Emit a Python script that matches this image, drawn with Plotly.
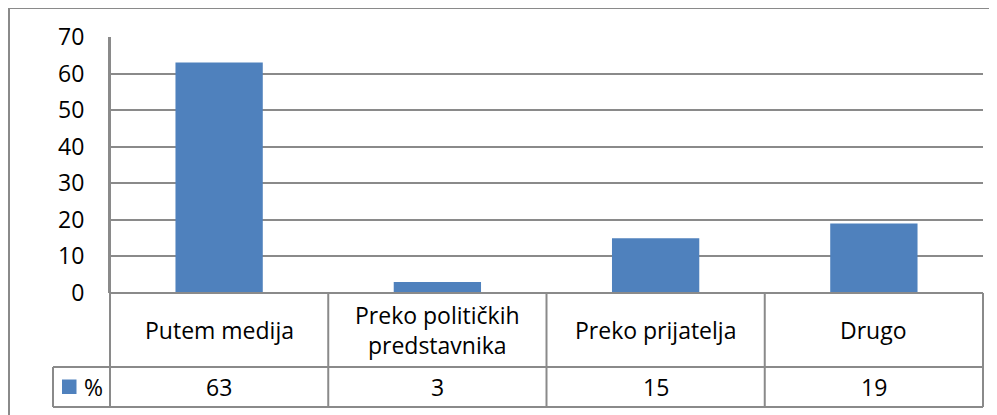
import plotly.graph_objects as go

# Survey answers: how respondents got their information (%)
categories = ["Putem medija", "Preko političkih<br>predstavnika", "Preko prijatelja", "Drugo"]
values = [63, 3, 15, 19]
series_name = "%"
y_ticks = [0, 10, 20, 30, 40, 50, 60, 70]

_BAR_COLOR = "#4f81bd"
_LINE_COLOR = "#8a8a8a"
_FONT = "Open Sans"

# the page body adds an 8px margin, so everything is laid out 8px up/left
OFF = 8
W, H = 997 - OFF, 415 - OFF
L, R, T, B = 110 - OFF, 983 - OFF, 37 - OFF, 293 - OFF  # plot area in pixels


def px(x):
    return (x - OFF - L) / (R - L)


def py(y):
    return (B - (y - OFF)) / (B - T)


fig = go.Figure()
fig.add_bar(
    x=list(range(len(categories))),
    y=values,
    name=series_name,
    marker={"color": _BAR_COLOR, "line": {"width": 0}},
)

row1, row2 = 367, 407  # reference pixel rows of the table
n = len(categories)
line = {"color": _LINE_COLOR, "width": 2}
shapes = []
# outer chart border (left and top only visible)
shapes.append(dict(type="line", xref="paper", yref="paper", x0=px(9), x1=px(9),
                   y0=py(8), y1=py(430), line=line))
shapes.append(dict(type="line", xref="paper", yref="paper", x0=px(9), x1=px(1010),
                   y0=py(8), y1=py(8), line=line))
# data table grid
shapes.append(dict(type="line", xref="paper", yref="paper", x0=0, x1=1,
                   y0=0, y1=0, line=line))
for yy in (row1, row2):
    shapes.append(dict(type="line", xref="paper", yref="paper", x0=px(53), x1=1,
                       y0=py(yy), y1=py(yy), line=line))
shapes.append(dict(type="line", xref="paper", yref="paper", x0=px(53), x1=px(53),
                   y0=py(row1), y1=py(row2), line=line))
shapes.append(dict(type="line", xref="paper", yref="paper", x0=0, x1=0,
                   y0=1, y1=py(row2), line=line))
for i in range(1, n + 1):
    xx = i / n
    shapes.append(dict(type="line", xref="paper", yref="paper", x0=xx, x1=xx,
                       y0=0, y1=py(row2), line=line))
# legend key in the table
shapes.append(dict(type="rect", xref="paper", yref="paper", x0=px(62), x1=px(76.5),
                   y0=py(394), y1=py(379.5), fillcolor=_BAR_COLOR, line={"width": 0}))

annotations = []
for i, (cat, val) in enumerate(zip(categories, values)):
    annotations.append(dict(x=i, y=py((293 + row1) / 2), xref="x", yref="paper",
                            text=cat, showarrow=False, yanchor="middle"))
    annotations.append(dict(x=i, y=py((row1 + row2) / 2), xref="x", yref="paper",
                            text=str(val), showarrow=False, yanchor="middle"))
annotations.append(dict(x=px(93), y=py(387), xref="paper", yref="paper",
                        text=series_name, showarrow=False, xanchor="center", yanchor="middle"))

fig.update_layout(
    width=W,
    height=H,
    margin={"l": L, "r": W - R, "t": T, "b": H - B, "pad": 0},
    paper_bgcolor="white",
    plot_bgcolor="white",
    font={"family": _FONT, "size": 23, "color": "black"},
    showlegend=False,
    bargap=0.6,
    shapes=shapes,
    annotations=annotations,
    xaxis={"range": [-0.5, n - 0.5], "showticklabels": False, "showgrid": False,
           "zeroline": False, "showline": False, "fixedrange": True},
    yaxis={"range": [0, 70], "tickvals": y_ticks, "showgrid": True,
           "gridcolor": _LINE_COLOR, "gridwidth": 1.5, "zeroline": False,
           "showline": True, "linecolor": _LINE_COLOR, "linewidth": 2,
           "ticks": "outside", "ticklen": 19, "tickcolor": "rgba(0,0,0,0)",
           "tickfont": {"size": 23}, "fixedrange": True},
)

fig.write_html("out.html")
